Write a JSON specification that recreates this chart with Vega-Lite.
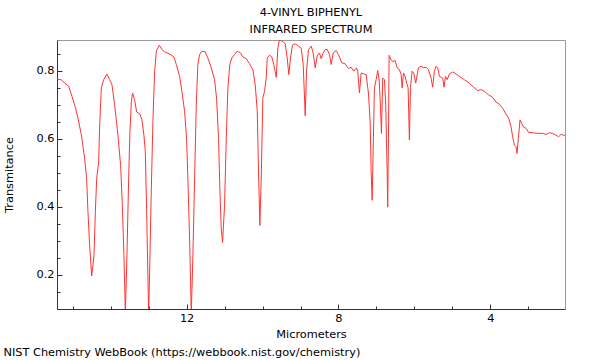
{
  "$schema": "https://vega.github.io/schema/vega-lite/v6.json",
  "padding": {"left": 3, "top": 6, "right": 5, "bottom": 2},
  "config": {
    "font": "DejaVu Sans",
    "view": {"stroke": "#999999", "strokeWidth": 1},
    "title": {"font": "DejaVu Sans", "fontSize": 11.33, "fontWeight": "normal", "color": "#000000"},
    "axis": {
      "labelFont": "DejaVu Sans", "labelFontSize": 11.33, "labelColor": "#000000",
      "titleFont": "DejaVu Sans", "titleFontSize": 11.33, "titleFontWeight": "normal", "titleColor": "#000000",
      "domainColor": "#333333", "tickColor": "#333333", "grid": false, "labelOverlap": false
    }
  },
  "title": {"text": "NIST Chemistry WebBook (https://webbook.nist.gov/chemistry)", "orient": "bottom", "anchor": "start", "offset": 7},
  "vconcat": [
    {
      "title": {"text": ["4-VINYL BIPHENYL", "INFRARED SPECTRUM"], "anchor": "middle", "lineHeight": 17, "offset": 5},
      "width": 508,
      "height": 269,
      "data": {"values": [
        {"um": 15.413, "t": 0.775}, {"um": 15.297, "t": 0.774}, {"um": 15.211, "t": 0.764}, {"um": 15.105, "t": 0.755},
        {"um": 15.018, "t": 0.725}, {"um": 14.929, "t": 0.692}, {"um": 14.861, "t": 0.661}, {"um": 14.771, "t": 0.611},
        {"um": 14.684, "t": 0.542}, {"um": 14.632, "t": 0.483}, {"um": 14.597, "t": 0.384}, {"um": 14.553, "t": 0.285},
        {"um": 14.5, "t": 0.196}, {"um": 14.439, "t": 0.256}, {"um": 14.403, "t": 0.384}, {"um": 14.368, "t": 0.483},
        {"um": 14.316, "t": 0.532}, {"um": 14.289, "t": 0.641}, {"um": 14.245, "t": 0.75}, {"um": 14.184, "t": 0.774},
        {"um": 14.097, "t": 0.791}, {"um": 14.026, "t": 0.774}, {"um": 13.966, "t": 0.759}, {"um": 13.895, "t": 0.7},
        {"um": 13.808, "t": 0.611}, {"um": 13.737, "t": 0.522}, {"um": 13.692, "t": 0.404}, {"um": 13.65, "t": 0.256},
        {"um": 13.613, "t": 0.085}, {"um": 13.571, "t": 0.256}, {"um": 13.526, "t": 0.483}, {"um": 13.492, "t": 0.621},
        {"um": 13.455, "t": 0.71}, {"um": 13.421, "t": 0.735}, {"um": 13.368, "t": 0.715}, {"um": 13.316, "t": 0.679},
        {"um": 13.229, "t": 0.673}, {"um": 13.176, "t": 0.656}, {"um": 13.124, "t": 0.611}, {"um": 13.087, "t": 0.562},
        {"um": 13.053, "t": 0.394}, {"um": 13.0, "t": 0.085}, {"um": 12.974, "t": 0.207}, {"um": 12.929, "t": 0.453},
        {"um": 12.887, "t": 0.651}, {"um": 12.842, "t": 0.799}, {"um": 12.797, "t": 0.858}, {"um": 12.718, "t": 0.876},
        {"um": 12.65, "t": 0.863}, {"um": 12.579, "t": 0.856}, {"um": 12.447, "t": 0.85}, {"um": 12.334, "t": 0.841},
        {"um": 12.271, "t": 0.819}, {"um": 12.184, "t": 0.784}, {"um": 12.124, "t": 0.74}, {"um": 12.053, "t": 0.681},
        {"um": 12.0, "t": 0.601}, {"um": 11.966, "t": 0.483}, {"um": 11.921, "t": 0.305}, {"um": 11.876, "t": 0.085},
        {"um": 11.834, "t": 0.256}, {"um": 11.789, "t": 0.483}, {"um": 11.745, "t": 0.7}, {"um": 11.703, "t": 0.819},
        {"um": 11.658, "t": 0.848}, {"um": 11.597, "t": 0.858}, {"um": 11.508, "t": 0.856}, {"um": 11.439, "t": 0.838},
        {"um": 11.35, "t": 0.809}, {"um": 11.263, "t": 0.774}, {"um": 11.211, "t": 0.72}, {"um": 11.158, "t": 0.601},
        {"um": 11.124, "t": 0.453}, {"um": 11.087, "t": 0.335}, {"um": 11.053, "t": 0.295}, {"um": 11.0, "t": 0.404},
        {"um": 10.955, "t": 0.601}, {"um": 10.913, "t": 0.75}, {"um": 10.861, "t": 0.819}, {"um": 10.808, "t": 0.838},
        {"um": 10.737, "t": 0.848}, {"um": 10.666, "t": 0.858}, {"um": 10.579, "t": 0.853}, {"um": 10.518, "t": 0.841},
        {"um": 10.429, "t": 0.836}, {"um": 10.342, "t": 0.821}, {"um": 10.255, "t": 0.804}, {"um": 10.192, "t": 0.759},
        {"um": 10.139, "t": 0.681}, {"um": 10.105, "t": 0.503}, {"um": 10.071, "t": 0.345}, {"um": 10.034, "t": 0.483},
        {"um": 9.992, "t": 0.72}, {"um": 9.947, "t": 0.74}, {"um": 9.903, "t": 0.779}, {"um": 9.876, "t": 0.838},
        {"um": 9.816, "t": 0.846}, {"um": 9.755, "t": 0.841}, {"um": 9.703, "t": 0.819}, {"um": 9.639, "t": 0.781},
        {"um": 9.597, "t": 0.868}, {"um": 9.553, "t": 0.893}, {"um": 9.466, "t": 0.886}, {"um": 9.403, "t": 0.88},
        {"um": 9.35, "t": 0.838}, {"um": 9.308, "t": 0.789}, {"um": 9.263, "t": 0.838}, {"um": 9.211, "t": 0.876},
        {"um": 9.139, "t": 0.88}, {"um": 9.053, "t": 0.873}, {"um": 8.982, "t": 0.868}, {"um": 8.929, "t": 0.819},
        {"um": 8.876, "t": 0.668}, {"um": 8.842, "t": 0.799}, {"um": 8.789, "t": 0.863}, {"um": 8.718, "t": 0.873},
        {"um": 8.666, "t": 0.853}, {"um": 8.613, "t": 0.809}, {"um": 8.561, "t": 0.844}, {"um": 8.5, "t": 0.853},
        {"um": 8.455, "t": 0.836}, {"um": 8.403, "t": 0.853}, {"um": 8.35, "t": 0.863}, {"um": 8.297, "t": 0.863},
        {"um": 8.237, "t": 0.848}, {"um": 8.192, "t": 0.819}, {"um": 8.139, "t": 0.853}, {"um": 8.061, "t": 0.86},
        {"um": 8.0, "t": 0.848}, {"um": 7.913, "t": 0.824}, {"um": 7.824, "t": 0.821}, {"um": 7.737, "t": 0.807},
        {"um": 7.666, "t": 0.811}, {"um": 7.597, "t": 0.799}, {"um": 7.526, "t": 0.809}, {"um": 7.492, "t": 0.799},
        {"um": 7.447, "t": 0.735}, {"um": 7.403, "t": 0.794}, {"um": 7.334, "t": 0.791}, {"um": 7.271, "t": 0.789},
        {"um": 7.211, "t": 0.735}, {"um": 7.166, "t": 0.651}, {"um": 7.139, "t": 0.503}, {"um": 7.113, "t": 0.419},
        {"um": 7.087, "t": 0.562}, {"um": 7.053, "t": 0.75}, {"um": 7.008, "t": 0.774}, {"um": 6.966, "t": 0.801},
        {"um": 6.929, "t": 0.774}, {"um": 6.895, "t": 0.7}, {"um": 6.868, "t": 0.616}, {"um": 6.834, "t": 0.779},
        {"um": 6.789, "t": 0.774}, {"um": 6.755, "t": 0.7}, {"um": 6.718, "t": 0.503}, {"um": 6.703, "t": 0.399},
        {"um": 6.684, "t": 0.601}, {"um": 6.666, "t": 0.846}, {"um": 6.613, "t": 0.833}, {"um": 6.571, "t": 0.827},
        {"um": 6.508, "t": 0.831}, {"um": 6.455, "t": 0.809}, {"um": 6.395, "t": 0.804}, {"um": 6.35, "t": 0.789},
        {"um": 6.324, "t": 0.75}, {"um": 6.289, "t": 0.794}, {"um": 6.245, "t": 0.784}, {"um": 6.203, "t": 0.764},
        {"um": 6.166, "t": 0.75}, {"um": 6.132, "t": 0.597}, {"um": 6.105, "t": 0.75}, {"um": 6.061, "t": 0.799},
        {"um": 6.018, "t": 0.794}, {"um": 5.966, "t": 0.764}, {"um": 5.895, "t": 0.809}, {"um": 5.824, "t": 0.814},
        {"um": 5.755, "t": 0.809}, {"um": 5.692, "t": 0.811}, {"um": 5.632, "t": 0.804}, {"um": 5.561, "t": 0.779},
        {"um": 5.518, "t": 0.752}, {"um": 5.474, "t": 0.799}, {"um": 5.429, "t": 0.814}, {"um": 5.387, "t": 0.809},
        {"um": 5.342, "t": 0.784}, {"um": 5.297, "t": 0.781}, {"um": 5.255, "t": 0.779}, {"um": 5.218, "t": 0.752},
        {"um": 5.184, "t": 0.784}, {"um": 5.139, "t": 0.774}, {"um": 5.079, "t": 0.791}, {"um": 4.992, "t": 0.797},
        {"um": 4.903, "t": 0.791}, {"um": 4.816, "t": 0.784}, {"um": 4.684, "t": 0.774}, {"um": 4.553, "t": 0.764},
        {"um": 4.439, "t": 0.752}, {"um": 4.334, "t": 0.742}, {"um": 4.245, "t": 0.745}, {"um": 4.158, "t": 0.74},
        {"um": 4.053, "t": 0.73}, {"um": 3.939, "t": 0.722}, {"um": 3.85, "t": 0.708}, {"um": 3.763, "t": 0.702},
        {"um": 3.676, "t": 0.69}, {"um": 3.587, "t": 0.673}, {"um": 3.518, "t": 0.661}, {"um": 3.455, "t": 0.636},
        {"um": 3.413, "t": 0.606}, {"um": 3.368, "t": 0.582}, {"um": 3.324, "t": 0.577}, {"um": 3.297, "t": 0.557},
        {"um": 3.263, "t": 0.601}, {"um": 3.218, "t": 0.656}, {"um": 3.176, "t": 0.646}, {"um": 3.132, "t": 0.636},
        {"um": 3.061, "t": 0.631}, {"um": 2.992, "t": 0.619}, {"um": 2.887, "t": 0.618}, {"um": 2.755, "t": 0.616},
        {"um": 2.624, "t": 0.616}, {"um": 2.534, "t": 0.613}, {"um": 2.447, "t": 0.618}, {"um": 2.361, "t": 0.616},
        {"um": 2.271, "t": 0.611}, {"um": 2.203, "t": 0.606}, {"um": 2.139, "t": 0.613}, {"um": 2.071, "t": 0.611},
        {"um": 2.034, "t": 0.61}
      ]},
      "mark": {"type": "line", "color": "#ff3333", "strokeWidth": 1, "clip": true},
      "encoding": {
        "x": {
          "field": "um", "type": "quantitative",
          "scale": {"domain": [2.034, 15.413], "reverse": true, "nice": false, "zero": false},
          "axis": {
            "title": "Micrometers",
            "values": [3, 4, 5, 6, 7, 8, 9, 10, 11, 12, 13, 14, 15],
            "labelExpr": "datum.value % 4 === 0 ? datum.label : ''",
            "tickSize": {"condition": {"test": "datum.value % 4 === 0", "value": -5}, "value": -3},
            "labelPadding": 8,
            "titlePadding": 3
          }
        },
        "y": {
          "field": "t", "type": "quantitative",
          "scale": {"domain": [0.099, 0.891], "nice": false, "zero": false},
          "axis": {
            "title": "Transmitance",
            "values": [0.15, 0.2, 0.25, 0.3, 0.35, 0.4, 0.45, 0.5, 0.55, 0.6, 0.65, 0.7, 0.75, 0.8, 0.85],
            "labelExpr": "round(datum.value * 100) % 20 === 0 ? format(datum.value, '.1f') : ''",
            "tickSize": {"condition": {"test": "round(datum.value * 100) % 20 === 0", "value": -5}, "value": -3},
            "labelPadding": 8,
            "titlePadding": 21
          }
        }
      }
    }
  ]
}
